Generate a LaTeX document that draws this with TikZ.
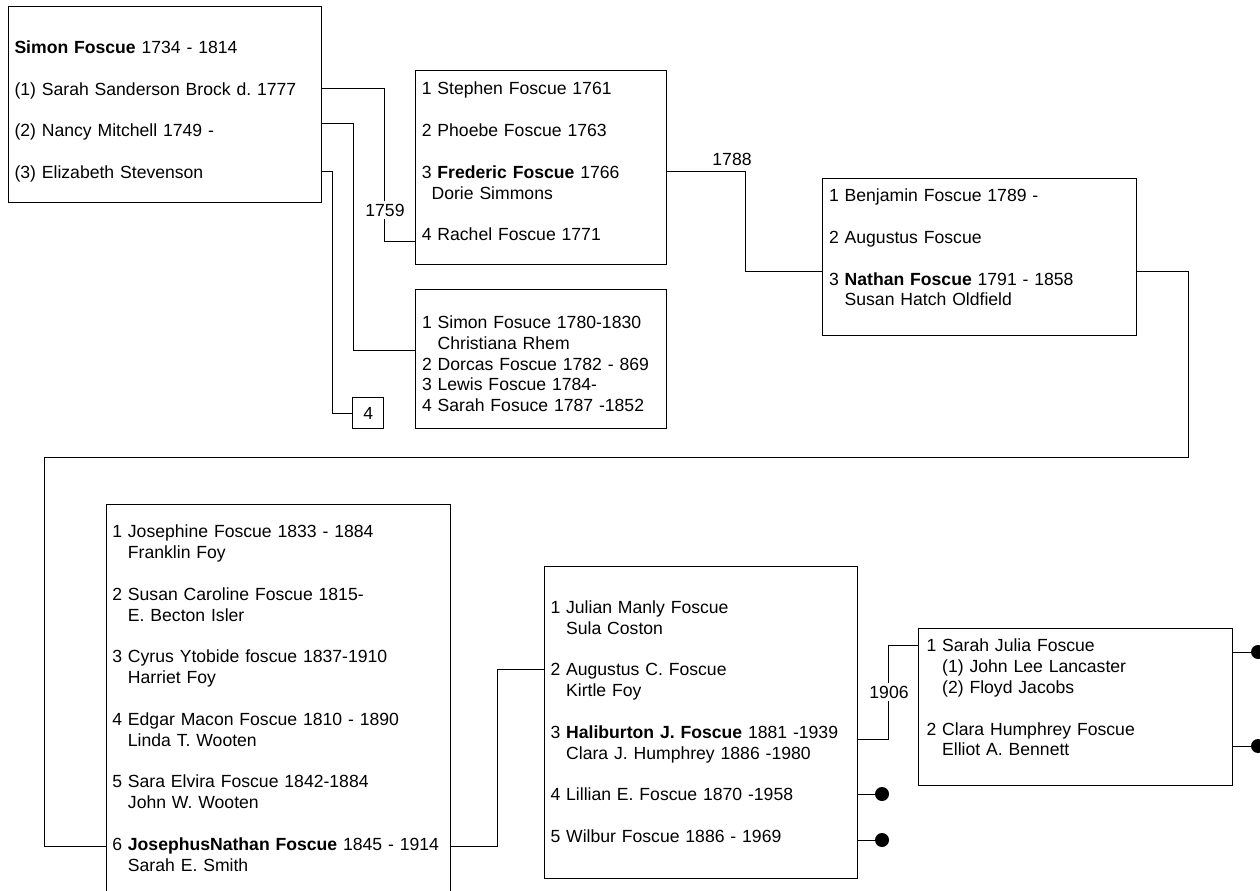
\documentclass[tikz,border=0pt]{standalone}
\usepackage{fontspec}
\setmainfont{Liberation Sans}
\frenchspacing

\tikzset{every picture/.style={line width=0.75pt}}
\tikzset{
	fambox/.style={draw, rectangle, inner sep=0pt, font=\fontsize{13.2pt}{15.64pt}\selectfont},
	famtext/.style={anchor=base west, inner sep=0pt, align=left, text width=250pt, font=\fontsize{13.2pt}{15.64pt}\selectfont},
	yearlbl/.style={fill=white, inner sep=2pt, font=\fontsize{13.2pt}{15.64pt}\selectfont},
	enddot/.style={circle, fill, inner sep=0pt, minimum size=10.5pt}
}
\newcommand{\entrygap}{\\[15.64pt]}
\newcommand{\spouseind}{\phantom{1}\ }

\begin{document}
\begin{tikzpicture}[x=0.75pt,y=0.75pt,yscale=-1,xscale=1]
	\useasboundingbox (0,0) rectangle (1260,891);

	%Shape: Rectangle [Simon Foscue]
	\node[fambox, minimum width=234.75pt, minimum height=147pt] (famSimon) at (164.5,105) {};
	%Shape: Rectangle [Stephen .. Rachel]
	\node[fambox, minimum width=188.25pt, minimum height=145.5pt] (famStephen) at (540.5,168) {};
	%Shape: Rectangle [Simon Jr .. Sarah]
	\node[fambox, minimum width=188.25pt, minimum height=104.25pt] (famSimonJr) at (540.5,358.7) {};
	%Shape: Rectangle [4]
	\node[fambox, minimum width=23.25pt, minimum height=22.9pt] (famFour) at (368.3,413) {4};
	%Shape: Rectangle [Benjamin .. Nathan]
	\node[fambox, minimum width=235.3pt, minimum height=117pt] (famBenjamin) at (979.2,257) {};
	%Shape: Rectangle [Josephine .. Josephus]
	\node[fambox, minimum width=258pt, minimum height=300.75pt] (famJosephine) at (278,704.5) {};
	%Shape: Rectangle [Julian .. Wilbur]
	\node[fambox, minimum width=234.75pt, minimum height=234.2pt] (famJulian) at (700.8,722.8) {};
	%Shape: Rectangle [Sarah Julia .. Clara]
	\node[fambox, minimum width=235.3pt, minimum height=117.5pt] (famSarah) at (1075.8,707.3) {};

	% Text Node
	\node[famtext] (txtSimon) at (14,53.3) {\textbf{Simon Foscue} 1734 - 1814\entrygap (1) Sarah Sanderson Brock d. 1777\entrygap (2) Nancy Mitchell 1749 -\entrygap (3) Elizabeth Stevenson};
	% Text Node
	\node[famtext] (txtStephen) at (421.3,95) {1 Stephen Foscue 1761\entrygap 2 Phoebe Foscue 1763\entrygap 3 \textbf{Frederic Foscue} 1766\\ \phantom{1}Dorie Simmons\entrygap 4 Rachel Foscue 1771};
	% Text Node
	\node[famtext] (txtSimonJr) at (421.5,328.3) {1 Simon Fosuce 1780-1830\\ \spouseind Christiana Rhem\\ 2 Dorcas Foscue 1782 - 869\\ 3 Lewis Foscue 1784-\\ 4 Sarah Fosuce 1787 -1852};
	% Text Node
	\node[famtext] (txtBenjamin) at (828.5,201.7) {1 Benjamin Foscue 1789 -\entrygap 2 Augustus Foscue\entrygap 3 \textbf{Nathan Foscue} 1791 - 1858\\ \spouseind Susan Hatch Oldfield};
	% Text Node
	\node[famtext] (txtJosephine) at (111.8,537.7) {1 Josephine Foscue 1833 - 1884\\ \spouseind Franklin Foy\entrygap 2 Susan Caroline Foscue 1815-\\ \spouseind E. Becton Isler\entrygap 3 Cyrus Ytobide foscue 1837-1910\\ \spouseind Harriet Foy\entrygap 4 Edgar Macon Foscue 1810 - 1890\\ \spouseind Linda T. Wooten\entrygap 5 Sara Elvira Foscue 1842-1884\\ \spouseind John W. Wooten\entrygap 6 \textbf{JosephusNathan Foscue} 1845 - 1914\\ \spouseind Sarah E. Smith};
	% Text Node
	\node[famtext] (txtJulian) at (550,613.3) {1 Julian Manly Foscue\\ \spouseind Sula Coston\entrygap 2 Augustus C. Foscue\\ \spouseind Kirtle Foy\entrygap 3 \textbf{Haliburton J. Foscue} 1881 -1939\\ \spouseind Clara J. Humphrey 1886 -1980\entrygap 4 Lillian E. Foscue 1870 -1958\entrygap 5 Wilbur Foscue 1886 - 1969};
	% Text Node
	\node[famtext] (txtSarah) at (926,651.7) {1 Sarah Julia Foscue\\ \spouseind (1) John Lee Lancaster\\ \spouseind (2) Floyd Jacobs\entrygap 2 Clara Humphrey Foscue\\ \spouseind Elliot A. Bennett};

	%Straight Lines [Simon - Stephen]
	\coordinate (ab1) at (384,89);
	\coordinate (ab2) at (384,242);
	\draw (famSimon.east |- ab1) -- (ab1) -- (ab2) -- (famStephen.west |- ab2);
	%Straight Lines [Simon - Simon Jr]
	\coordinate (ac1) at (353,124);
	\coordinate (ac2) at (353,350);
	\draw (famSimon.east |- ac1) -- (ac1) -- (ac2) -- (famSimonJr.west |- ac2);
	%Straight Lines [Simon - 4]
	\coordinate (af1) at (332,172);
	\coordinate (af2) at (332,413);
	\draw (famSimon.east |- af1) -- (af1) -- (af2) -- (famFour.west);
	%Straight Lines [Frederic - Benjamin]
	\coordinate (bd1) at (745,172);
	\coordinate (bd2) at (745,272);
	\draw (famStephen.east |- bd1) -- (bd1) -- (bd2) -- (famBenjamin.west |- bd2);
	%Straight Lines [Nathan - Josephine]
	\coordinate (de1) at (1188,272);
	\coordinate (de2) at (1188,457);
	\coordinate (de3) at (44,457);
	\coordinate (de4) at (44,846);
	\draw (famBenjamin.east |- de1) -- (de1) -- (de2) -- (de3) -- (de4) -- (famJosephine.west |- de4);
	%Straight Lines [Josephus - Julian]
	\coordinate (ef1) at (497,846);
	\coordinate (ef2) at (497,669);
	\draw (famJosephine.east |- ef1) -- (ef1) -- (ef2) -- (famJulian.west |- ef2);
	%Straight Lines [Haliburton - Sarah Julia]
	\coordinate (fg1) at (888,739);
	\coordinate (fg2) at (888,645);
	\draw (famJulian.east |- fg1) -- (fg1) -- (fg2) -- (famSarah.west |- fg2);

	%Shape: Circle
	\node[enddot] (dotLillian) at (882,794) {};
	\node[enddot] (dotWilbur) at (882,840) {};
	\node[enddot] (dotSarah) at (1258,652) {};
	\node[enddot] (dotClara) at (1258,746) {};
	\draw (famJulian.east |- dotLillian) -- (dotLillian);
	\draw (famJulian.east |- dotWilbur) -- (dotWilbur);
	\draw (famSarah.east |- dotSarah) -- (dotSarah);
	\draw (famSarah.east |- dotClara) -- (dotClara);

	% Text Node
	\node[yearlbl] (yr1759) at (385,210) {1759};
	% Text Node
	\node[yearlbl] (yr1788) at (732,159) {1788};
	% Text Node
	\node[yearlbl] (yr1906) at (889,692) {1906};

\end{tikzpicture}
\end{document}
